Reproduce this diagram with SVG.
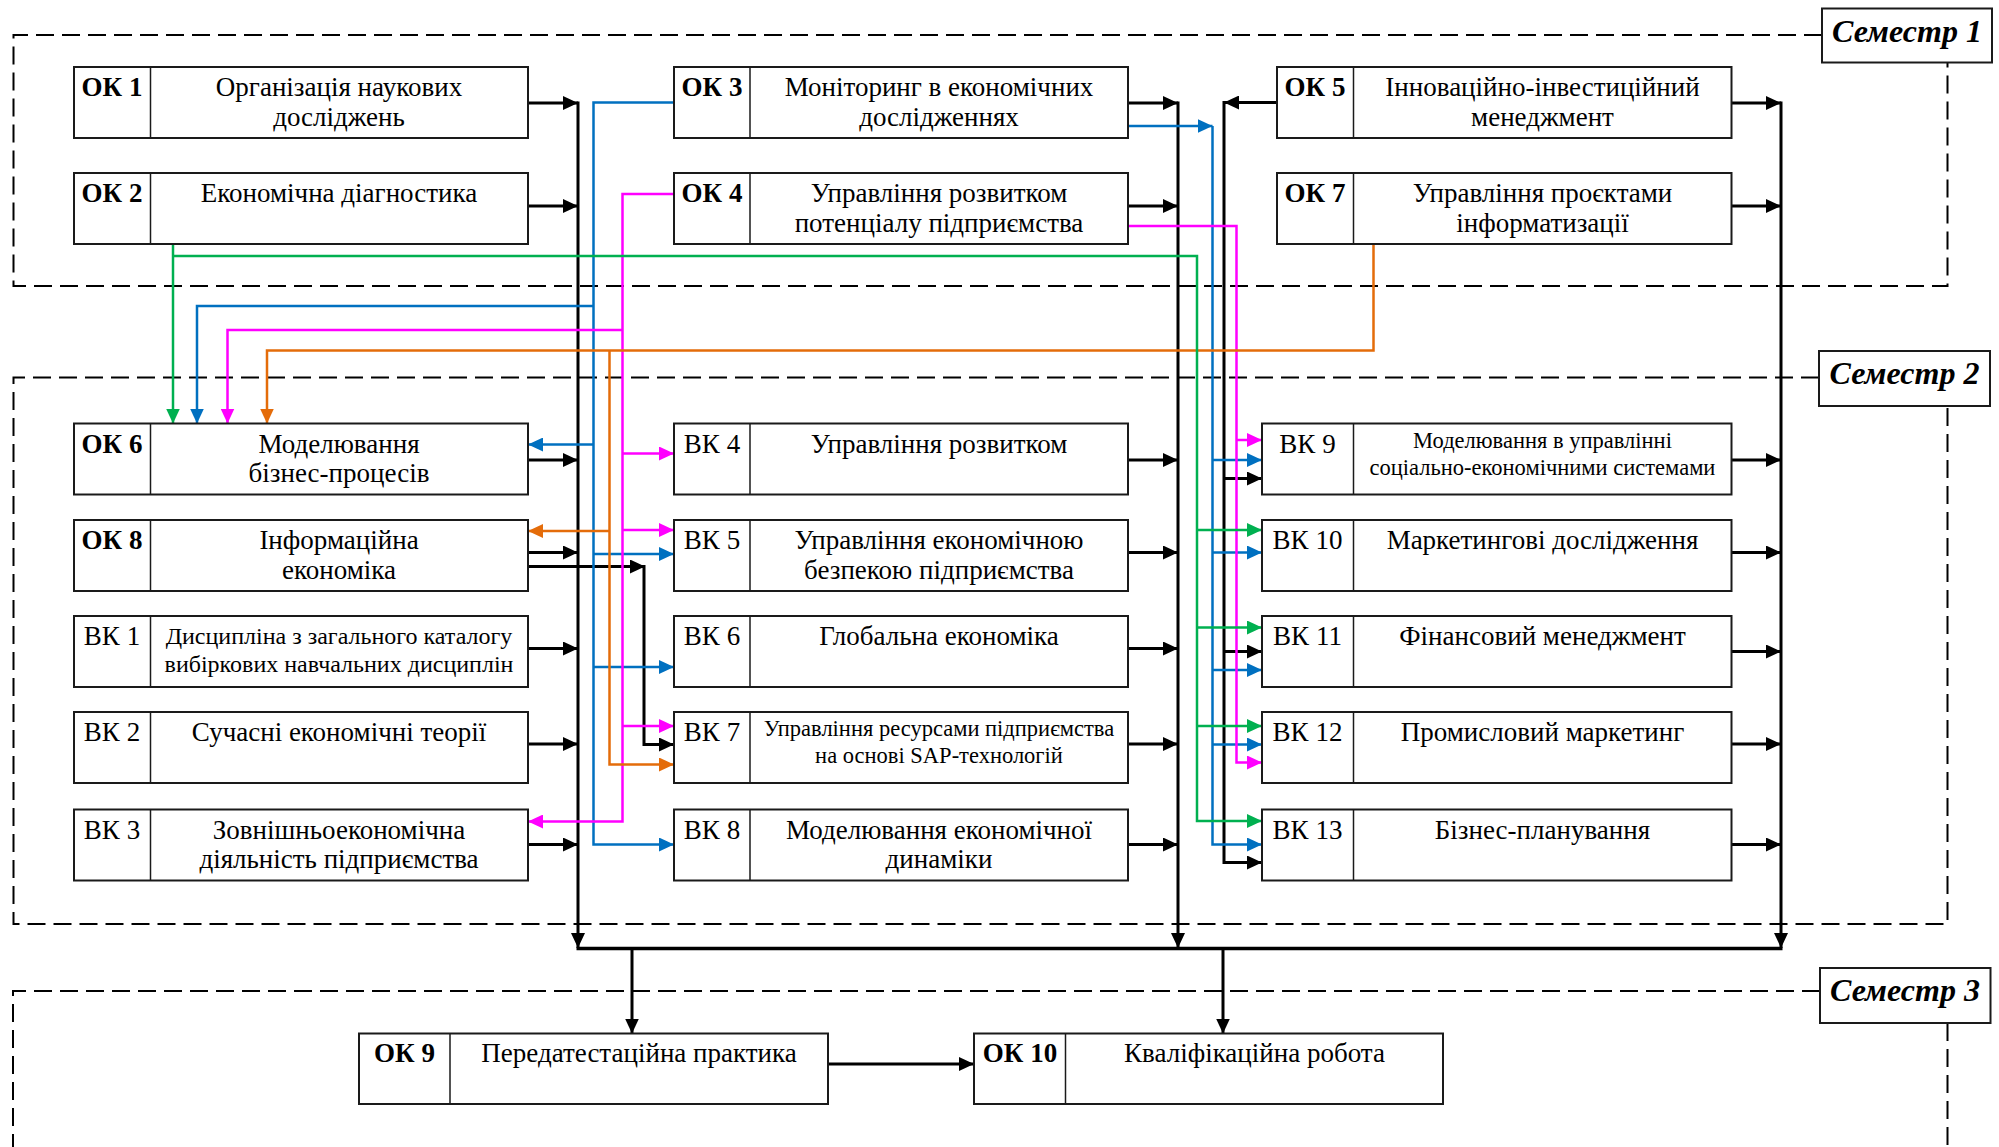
<svg xmlns="http://www.w3.org/2000/svg" width="1999" height="1147" viewBox="0 0 1999 1147">
<defs>
<style>
.box{fill:#fff;stroke:#1a1a1a;stroke-width:2}
.dv{stroke:#1a1a1a;stroke-width:1.5}
text{font-family:"Liberation Serif","Times New Roman",serif;fill:#000}
.lb{font-size:27px;font-weight:bold;text-anchor:middle}
.ln{font-size:27px;text-anchor:middle}
.t{font-size:27px;text-anchor:middle}
.tv{font-size:24px;text-anchor:middle}
.ts{font-size:22.5px;text-anchor:middle}
.sem{font-size:32px;font-weight:bold;font-style:italic;text-anchor:middle}
.dash{fill:none;stroke:#000;stroke-width:2;stroke-dasharray:18 8}
.k{fill:none;stroke:#000;stroke-width:3}
.b{fill:none;stroke:#0070C0;stroke-width:2.5}
.m{fill:none;stroke:#FF00FF;stroke-width:2.5}
.o{fill:none;stroke:#E46C0A;stroke-width:2.5}
.g{fill:none;stroke:#00B050;stroke-width:2.5}
</style>
<marker id="ak" viewBox="0 0 15 14" refX="15" refY="7" markerWidth="15" markerHeight="14" markerUnits="userSpaceOnUse" orient="auto"><path d="M0,0 L15,7 L0,14 z" fill="#000"/></marker>
<marker id="ab" viewBox="0 0 15 14" refX="15" refY="7" markerWidth="15" markerHeight="14" markerUnits="userSpaceOnUse" orient="auto"><path d="M0,0 L15,7 L0,14 z" fill="#0070C0"/></marker>
<marker id="am" viewBox="0 0 15 14" refX="15" refY="7" markerWidth="15" markerHeight="14" markerUnits="userSpaceOnUse" orient="auto"><path d="M0,0 L15,7 L0,14 z" fill="#FF00FF"/></marker>
<marker id="ao" viewBox="0 0 15 14" refX="15" refY="7" markerWidth="15" markerHeight="14" markerUnits="userSpaceOnUse" orient="auto"><path d="M0,0 L15,7 L0,14 z" fill="#E46C0A"/></marker>
<marker id="ag" viewBox="0 0 15 14" refX="15" refY="7" markerWidth="15" markerHeight="14" markerUnits="userSpaceOnUse" orient="auto"><path d="M0,0 L15,7 L0,14 z" fill="#00B050"/></marker>
</defs>
<rect width="1999" height="1147" fill="#fff"/>

<g id="semesters">
<path class="dash" d="M1822,35 H13.5 V286 H1947.5 V63"/>
<path class="dash" d="M1819,377.5 H13.5 V924 H1947.5 V406"/>
<path class="dash" d="M1820,991 H13 V1150 M1947.5,1023 V1150"/>
<g id="sem1"><rect class="box" x="1822" y="8.5" width="170" height="54"/><text class="sem" x="1907" y="42">Семестр 1</text></g>
<g id="sem2"><rect class="box" x="1819" y="351" width="171" height="55"/><text class="sem" x="1904.5" y="384">Семестр 2</text></g>
<g id="sem3"><rect class="box" x="1820" y="968" width="170.5" height="55"/><text class="sem" x="1905" y="1001">Семестр 3</text></g>
</g>

<g id="connectors">
<path class="k" marker-end="url(#ak)" d="M528,103 H578"/>
<path class="k" marker-end="url(#ak)" d="M528,206 H578"/>
<path class="k" marker-end="url(#ak)" d="M528,460 H578"/>
<path class="k" marker-end="url(#ak)" d="M528,552.5 H578"/>
<path class="k" marker-end="url(#ak)" d="M528,648.5 H578"/>
<path class="k" marker-end="url(#ak)" d="M528,744 H578"/>
<path class="k" marker-end="url(#ak)" d="M528,844.5 H578"/>
<path class="k" marker-end="url(#ak)" d="M1128,103 H1178"/>
<path class="k" marker-end="url(#ak)" d="M1128,206 H1178"/>
<path class="k" marker-end="url(#ak)" d="M1128,460 H1178"/>
<path class="k" marker-end="url(#ak)" d="M1128,552.5 H1178"/>
<path class="k" marker-end="url(#ak)" d="M1128,648.5 H1178"/>
<path class="k" marker-end="url(#ak)" d="M1128,744 H1178"/>
<path class="k" marker-end="url(#ak)" d="M1128,844.5 H1178"/>
<path class="k" marker-end="url(#ak)" d="M1731.5,103 H1781"/>
<path class="k" marker-end="url(#ak)" d="M1731.5,206 H1781"/>
<path class="k" marker-end="url(#ak)" d="M1731.5,460 H1781"/>
<path class="k" marker-end="url(#ak)" d="M1731.5,552.5 H1781"/>
<path class="k" marker-end="url(#ak)" d="M1731.5,651.5 H1781"/>
<path class="k" marker-end="url(#ak)" d="M1731.5,744 H1781"/>
<path class="k" marker-end="url(#ak)" d="M1731.5,844.5 H1781"/>
<path class="k" marker-end="url(#ak)" d="M578,101.5 V948"/>
<path class="k" marker-end="url(#ak)" d="M1178,101.5 V948"/>
<path class="k" marker-end="url(#ak)" d="M1781,101.5 V948"/>
<path class="k" style="stroke-width:3.5" d="M576.5,948.5 H1782.5"/>
<path class="k" marker-end="url(#ak)" d="M632,948.5 V1033.5"/>
<path class="k" marker-end="url(#ak)" d="M1223,948.5 V1033.5"/>
<path class="k" marker-end="url(#ak)" d="M828,1064 H974"/>
<path class="k" marker-end="url(#ak)" d="M1277,102.5 H1224"/>
<path class="k" marker-end="url(#ak)" d="M1224,101 V862.5 H1262"/>
<path class="k" marker-end="url(#ak)" d="M1224,478.5 H1262"/>
<path class="k" marker-end="url(#ak)" d="M1224,651.5 H1262"/>
<path class="k" marker-end="url(#ak)" d="M528,566.5 H645"/>
<path class="k" marker-end="url(#ak)" d="M644,565 V744.5 H674"/>
<path class="b" marker-end="url(#ab)" d="M674,102.5 H593.5 V844.5 H674"/>
<path class="b" marker-end="url(#ab)" d="M593.5,306 H197 V423.5"/>
<path class="b" marker-end="url(#ab)" d="M593.5,444.5 H528"/>
<path class="b" marker-end="url(#ab)" d="M593.5,554 H674"/>
<path class="b" marker-end="url(#ab)" d="M593.5,667 H674"/>
<path class="b" marker-end="url(#ab)" d="M1128,126 H1212.5"/>
<path class="b" marker-end="url(#ab)" d="M1212.5,126 V844.5 H1262"/>
<path class="b" marker-end="url(#ab)" d="M1212.5,460 H1262"/>
<path class="b" marker-end="url(#ab)" d="M1212.5,552.5 H1262"/>
<path class="b" marker-end="url(#ab)" d="M1212.5,670 H1262"/>
<path class="b" marker-end="url(#ab)" d="M1212.5,744.5 H1262"/>
<path class="m" marker-end="url(#am)" d="M674,194 H622.5 V821.5 H528"/>
<path class="m" marker-end="url(#am)" d="M622.5,330 H227.5 V423.5"/>
<path class="m" marker-end="url(#am)" d="M622.5,453.5 H674"/>
<path class="m" marker-end="url(#am)" d="M622.5,530 H674"/>
<path class="m" marker-end="url(#am)" d="M622.5,726 H674"/>
<path class="m" marker-end="url(#am)" d="M1128,226 H1236.5 V762.5 H1262"/>
<path class="m" marker-end="url(#am)" d="M1236.5,440 H1262"/>
<path class="o" marker-end="url(#ao)" d="M1373.5,244 V350.5 H267 V423.5"/>
<path class="o" marker-end="url(#ao)" d="M609.5,350.5 V764.5 H674"/>
<path class="o" marker-end="url(#ao)" d="M609.5,531 H528"/>
<path class="g" marker-end="url(#ag)" d="M173,244 V423.5"/>
<path class="g" marker-end="url(#ag)" d="M173,256 H1197 V821 H1262"/>
<path class="g" marker-end="url(#ag)" d="M1197,530 H1262"/>
<path class="g" marker-end="url(#ag)" d="M1197,627.5 H1262"/>
<path class="g" marker-end="url(#ag)" d="M1197,726 H1262"/>
</g>

<g id="ok1"><rect class="box" x="74" y="67" width="454" height="71"/><line class="dv" x1="150.5" y1="67" x2="150.5" y2="138"/><text class="lb" x="112" y="96">ОК 1</text><text class="t" x="339" y="96">Організація наукових</text><text class="t" x="339" y="125.5">досліджень</text></g>
<g id="ok2"><rect class="box" x="74" y="173" width="454" height="71"/><line class="dv" x1="150.5" y1="173" x2="150.5" y2="244"/><text class="lb" x="112" y="202">ОК 2</text><text class="t" x="339" y="202">Економічна діагностика</text></g>
<g id="ok6"><rect class="box" x="74" y="423.5" width="454" height="71"/><line class="dv" x1="150.5" y1="423.5" x2="150.5" y2="494.5"/><text class="lb" x="112" y="452.5">ОК 6</text><text class="t" x="339" y="452.5">Моделювання</text><text class="t" x="339" y="482">бізнес-процесів</text></g>
<g id="ok8"><rect class="box" x="74" y="520" width="454" height="71"/><line class="dv" x1="150.5" y1="520" x2="150.5" y2="591"/><text class="lb" x="112" y="549">ОК 8</text><text class="t" x="339" y="549">Інформаційна</text><text class="t" x="339" y="578.5">економіка</text></g>
<g id="vk1"><rect class="box" x="74" y="616" width="454" height="71"/><line class="dv" x1="150.5" y1="616" x2="150.5" y2="687"/><text class="ln" x="112" y="645">ВК 1</text><text class="tv" x="339" y="644">Дисципліна з загального каталогу</text><text class="tv" x="339" y="672">вибіркових навчальних дисциплін</text></g>
<g id="vk2"><rect class="box" x="74" y="712" width="454" height="71"/><line class="dv" x1="150.5" y1="712" x2="150.5" y2="783"/><text class="ln" x="112" y="741">ВК 2</text><text class="t" x="339" y="741">Сучасні економічні теорії</text></g>
<g id="vk3"><rect class="box" x="74" y="809.5" width="454" height="71"/><line class="dv" x1="150.5" y1="809.5" x2="150.5" y2="880.5"/><text class="ln" x="112" y="838.5">ВК 3</text><text class="t" x="339" y="838.5">Зовнішньоекономічна</text><text class="t" x="339" y="868">діяльність підприємства</text></g>

<g id="ok3"><rect class="box" x="674" y="67" width="454" height="71"/><line class="dv" x1="750" y1="67" x2="750" y2="138"/><text class="lb" x="712" y="96">ОК 3</text><text class="t" x="939" y="96">Моніторинг в економічних</text><text class="t" x="939" y="125.5">дослідженнях</text></g>
<g id="ok4"><rect class="box" x="674" y="173" width="454" height="71"/><line class="dv" x1="750" y1="173" x2="750" y2="244"/><text class="lb" x="712" y="202">ОК 4</text><text class="t" x="939" y="202">Управління розвитком</text><text class="t" x="939" y="231.5">потенціалу підприємства</text></g>
<g id="vk4"><rect class="box" x="674" y="423.5" width="454" height="71"/><line class="dv" x1="750" y1="423.5" x2="750" y2="494.5"/><text class="ln" x="712" y="452.5">ВК 4</text><text class="t" x="939" y="452.5">Управління розвитком</text></g>
<g id="vk5"><rect class="box" x="674" y="520" width="454" height="71"/><line class="dv" x1="750" y1="520" x2="750" y2="591"/><text class="ln" x="712" y="549">ВК 5</text><text class="t" x="939" y="549">Управління економічною</text><text class="t" x="939" y="578.5">безпекою підприємства</text></g>
<g id="vk6"><rect class="box" x="674" y="616" width="454" height="71"/><line class="dv" x1="750" y1="616" x2="750" y2="687"/><text class="ln" x="712" y="645">ВК 6</text><text class="t" x="939" y="645">Глобальна економіка</text></g>
<g id="vk7"><rect class="box" x="674" y="712" width="454" height="71"/><line class="dv" x1="750" y1="712" x2="750" y2="783"/><text class="ln" x="712" y="741">ВК 7</text><text class="ts" x="939" y="736">Управління ресурсами підприємства</text><text class="ts" x="939" y="762.5">на основі SAP-технологій</text></g>
<g id="vk8"><rect class="box" x="674" y="809.5" width="454" height="71"/><line class="dv" x1="750" y1="809.5" x2="750" y2="880.5"/><text class="ln" x="712" y="838.5">ВК 8</text><text class="t" x="939" y="838.5">Моделювання економічної</text><text class="t" x="939" y="868">динаміки</text></g>

<g id="ok5"><rect class="box" x="1277" y="67" width="454.5" height="71"/><line class="dv" x1="1353.5" y1="67" x2="1353.5" y2="138"/><text class="lb" x="1315" y="96">ОК 5</text><text class="t" x="1542.5" y="96">Інноваційно-інвестиційний</text><text class="t" x="1542.5" y="125.5">менеджмент</text></g>
<g id="ok7"><rect class="box" x="1277" y="173" width="454.5" height="71"/><line class="dv" x1="1353.5" y1="173" x2="1353.5" y2="244"/><text class="lb" x="1315" y="202">ОК 7</text><text class="t" x="1542.5" y="202">Управління проєктами</text><text class="t" x="1542.5" y="231.5">інформатизації</text></g>
<g id="vk9"><rect class="box" x="1262" y="423.5" width="469.5" height="71"/><line class="dv" x1="1353.5" y1="423.5" x2="1353.5" y2="494.5"/><text class="ln" x="1307.5" y="452.5">ВК 9</text><text class="ts" x="1542.5" y="447.5">Моделювання в управлінні</text><text class="ts" x="1542.5" y="474.5">соціально-економічними системами</text></g>
<g id="vk10"><rect class="box" x="1262" y="520" width="469.5" height="71"/><line class="dv" x1="1353.5" y1="520" x2="1353.5" y2="591"/><text class="ln" x="1307.5" y="549">ВК 10</text><text class="t" x="1542.5" y="549">Маркетингові дослідження</text></g>
<g id="vk11"><rect class="box" x="1262" y="616" width="469.5" height="71"/><line class="dv" x1="1353.5" y1="616" x2="1353.5" y2="687"/><text class="ln" x="1307.5" y="645">ВК 11</text><text class="t" x="1542.5" y="645">Фінансовий менеджмент</text></g>
<g id="vk12"><rect class="box" x="1262" y="712" width="469.5" height="71"/><line class="dv" x1="1353.5" y1="712" x2="1353.5" y2="783"/><text class="ln" x="1307.5" y="741">ВК 12</text><text class="t" x="1542.5" y="741">Промисловий маркетинг</text></g>
<g id="vk13"><rect class="box" x="1262" y="809.5" width="469.5" height="71"/><line class="dv" x1="1353.5" y1="809.5" x2="1353.5" y2="880.5"/><text class="ln" x="1307.5" y="838.5">ВК 13</text><text class="t" x="1542.5" y="838.5">Бізнес-планування</text></g>

<g id="ok9"><rect class="box" x="359" y="1033.5" width="469" height="70.5"/><line class="dv" x1="450" y1="1033.5" x2="450" y2="1104"/><text class="lb" x="404.5" y="1062">ОК 9</text><text class="t" x="639" y="1062">Передатестаційна практика</text></g>
<g id="ok10"><rect class="box" x="974" y="1033.5" width="469" height="70.5"/><line class="dv" x1="1065.5" y1="1033.5" x2="1065.5" y2="1104"/><text class="lb" x="1020" y="1062">ОК 10</text><text class="t" x="1254.5" y="1062">Кваліфікаційна робота</text></g>
</svg>
